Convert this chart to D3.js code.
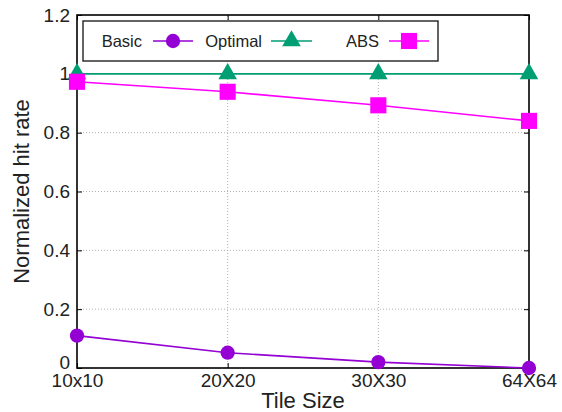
<!DOCTYPE html>
<html>
<head>
<meta charset="utf-8">
<script src="https://cdn.jsdelivr.net/npm/d3@7"></script>
<style>
  html, body { margin: 0; padding: 0; background: #fff; }
  svg { display: block; font-family: "Liberation Sans", Arial, sans-serif; }
</style>
</head>
<body>
<svg id="chart" width="562" height="412"></svg>
<script>
// Tile sizes on the x axis
const categories = ["10x10", "20X20", "30X30", "64X64"];
// Normalized hit rate per scheme
const basicValues = [0.11, 0.052, 0.02, 0.0];
const optimalValues = [1.0, 1.0, 1.0, 1.0];
const absValues = [0.973, 0.939, 0.893, 0.84];
// Y axis ticks
const yTicks = [0, 0.2, 0.4, 0.6, 0.8, 1, 1.2];

const seriesNames = ["Basic", "Optimal", "ABS"];
const seriesColors = ["#9400d3", "#009e73", "#ff00ff"];
const seriesShapes = [d3.symbolCircle, d3.symbolTriangle, d3.symbolSquare];
const seriesSizes = [160, 150, 260];

const margin = { left: 77, right: 33, top: 15, bottom: 44 };
const W = 562, H = 412;
const svg = d3.select("#chart");

const x = d3.scalePoint().domain(categories).range([margin.left, W - margin.right]);
const y = d3.scaleLinear().domain([0, 1.2]).range([H - margin.bottom, margin.top]);

const x0 = margin.left, x1 = W - margin.right;
const y0 = H - margin.bottom, y1 = margin.top;

// dotted grid
const grid = svg.append("g").attr("stroke", "#b0b0b0").attr("stroke-width", 1)
  .attr("stroke-dasharray", "1,2");
grid.selectAll("line.gy").data(yTicks.filter(t => t > 0 && t < 1.2)).join("line")
  .attr("x1", x0).attr("x2", x1).attr("y1", d => y(d)).attr("y2", d => y(d));
grid.selectAll("line.gx").data(categories.slice(1, -1)).join("line")
  .attr("class", "gx")
  .attr("x1", d => x(d)).attr("x2", d => x(d)).attr("y1", y0).attr("y2", y1);

// left axis with inward ticks
const yAxis = d3.axisLeft(y).tickValues(yTicks).tickSize(-5).tickPadding(7)
  .tickFormat(d => d === 0 ? "0" : d3.format("")(+d.toFixed(1)));
const ga = svg.append("g").attr("transform", `translate(${x0},0)`).call(yAxis);
ga.select(".domain").remove();
ga.selectAll("text").attr("font-size", 19).attr("fill", "#222");
ga.selectAll(".tick").filter(d => d === 0).select("text").attr("dy", "0em");
ga.selectAll("line").attr("stroke", "#000");

// right mirrored ticks
const gr = svg.append("g").attr("transform", `translate(${x1},0)`)
  .call(d3.axisRight(y).tickValues(yTicks).tickSize(-5).tickFormat(""));
gr.select(".domain").remove();
gr.selectAll("line").attr("stroke", "#000");

// bottom axis
const xAxis = d3.axisBottom(x).tickSize(-5).tickPadding(6);
const gb = svg.append("g").attr("transform", `translate(0,${y0})`).call(xAxis);
gb.select(".domain").remove();
gb.selectAll("text").attr("font-size", 19).attr("fill", "#222");
gb.selectAll("line").attr("stroke", "#000");

// top mirrored ticks
const gt = svg.append("g").attr("transform", `translate(0,${y1})`)
  .call(d3.axisTop(x).tickSize(-5).tickFormat(""));
gt.select(".domain").remove();
gt.selectAll("line").attr("stroke", "#000");

// frame
svg.append("rect").attr("x", x0).attr("y", y1).attr("width", x1 - x0).attr("height", y0 - y1)
  .attr("fill", "none").attr("stroke", "#000").attr("stroke-width", 1.6);

// axis titles
svg.append("text").attr("x", (x0 + x1) / 2).attr("y", 408).attr("text-anchor", "middle")
  .attr("font-size", 22).attr("fill", "#222").text("Tile Size");
svg.append("text").attr("transform", `translate(29,${(y0 + y1) / 2}) rotate(-90)`)
  .attr("text-anchor", "middle").attr("font-size", 22).attr("fill", "#222")
  .text("Normalized hit rate");

// series
const allValues = [basicValues, optimalValues, absValues];
const line = d3.line().x((d, i) => x(categories[i])).y(d => y(d));
allValues.forEach((vals, s) => {
  svg.append("path").datum(vals).attr("d", line).attr("fill", "none")
    .attr("stroke", seriesColors[s]).attr("stroke-width", 1.6);
  svg.selectAll(null).data(vals).join("path")
    .attr("transform", (d, i) => `translate(${x(categories[i])},${y(d)})`)
    .attr("d", d3.symbol().type(seriesShapes[s]).size(seriesSizes[s]))
    .attr("fill", seriesColors[s]);
});

// legend
const lg = svg.append("g");
lg.append("rect").attr("x", 83).attr("y", 21).attr("width", 355).attr("height", 40)
  .attr("fill", "#fff").attr("stroke", "#222").attr("stroke-width", 1.4);
const legendText = [142, 262, 379];
const legendLine = [[153, 193], [271, 312], [389, 429]];
seriesNames.forEach((n, s) => {
  lg.append("text").attr("x", legendText[s]).attr("y", 41).attr("dy", "0.35em")
    .attr("text-anchor", "end").attr("font-size", 16.5).attr("fill", "#222").text(n);
  lg.append("line").attr("x1", legendLine[s][0]).attr("x2", legendLine[s][1])
    .attr("y1", 41).attr("y2", 41).attr("stroke", seriesColors[s]).attr("stroke-width", 1.6);
  lg.append("path")
    .attr("transform", `translate(${(legendLine[s][0] + legendLine[s][1]) / 2},41)`)
    .attr("d", d3.symbol().type(seriesShapes[s]).size(seriesSizes[s]))
    .attr("fill", seriesColors[s]);
});
</script>
</body>
</html>
